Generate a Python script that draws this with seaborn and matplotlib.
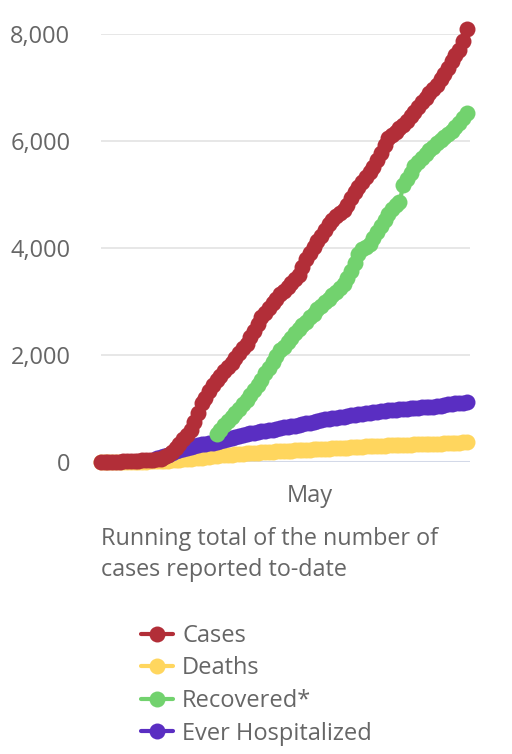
import numpy as np
import pandas as pd
import seaborn as sns
import matplotlib.pyplot as plt
from matplotlib.ticker import StrMethodFormatter

dates = pd.date_range('2020-03-06', periods=99, freq='D')

cases = [0, 0, 1, 1, 2, 3, 5, 8, 12, 15,
         20, 25, 30, 35, 40, 45, 52, 90, 130, 190,
         260, 340, 420, 500, 600, 750, 920, 1090, 1200, 1320,
         1440, 1520, 1600, 1690, 1770, 1850, 1940, 2030, 2120, 2210,
         2330, 2450, 2580, 2700, 2790, 2870, 2960, 3040, 3130, 3200,
         3260, 3340, 3410, 3500, 3650, 3790, 3900, 4010, 4120, 4230,
         4340, 4440, 4520, 4590, 4650, 4700, 4810, 4930, 5040, 5135,
         5230, 5320, 5420, 5520, 5640, 5780, 5920, 6050, 6110, 6170,
         6240, 6300, 6380, 6460, 6550, 6640, 6730, 6810, 6890, 6970,
         7050, 7150, 7260, 7370, 7490, 7600, 7700, 7870, 8090]

deaths = [0, 0, 0, 0, 0, 0, 0, 0, 0, 0,
          0, 0, 2, 4, 6, 9, 12, 16, 20, 25,
          30, 36, 42, 48, 55, 62, 70, 78, 86, 94,
          102, 110, 116, 122, 128, 134, 139, 145, 150, 155,
          160, 165, 170, 175, 180, 184, 189, 193, 197, 201,
          205, 208, 212, 215, 219, 222, 226, 229, 233, 236,
          240, 243, 247, 250, 254, 258, 262, 266, 271, 276,
          281, 285, 289, 292, 295, 298, 301, 304, 307, 310,
          313, 315, 318, 320, 323, 325, 328, 330, 333, 335,
          338, 340, 343, 345, 348, 351, 355, 360, 365]

# recovered reporting starts on day 31
recovered = [np.nan] * 31 + [
    525, 600, 680, 760, 840, 920, 990, 1070, 1160,
    1250, 1340, 1430, 1530, 1650, 1760, 1870, 1980, 2080, 2150,
    2230, 2320, 2400, 2480, 2550, 2620, 2700, 2770, 2850, 2910,
    2980, 3050, 3120, 3180, 3250, 3330, 3440, 3560, 3720, 3880,
    3980, 4020, 4080, 4180, 4300, 4410, 4530, 4640, 4730, 4800,
    4850, 5170, 5280, 5400, 5540, 5610, 5680, 5760, 5830, 5890,
    5960, 6020, 6070, 6130, 6190, 6260, 6340, 6430, 6520]

hospitalized = [np.nan] * 15 + [
    60, 80, 100, 130, 165,
    195, 215, 240, 260, 280, 295, 310, 325, 335, 345,
    355, 365, 385, 405, 425, 445, 460, 480, 500, 515,
    530, 545, 555, 565, 580, 590, 600, 615, 625, 640,
    650, 660, 670, 685, 700, 715, 730, 745, 760, 775,
    790, 805, 815, 825, 835, 845, 855, 865, 875, 885,
    895, 905, 915, 925, 935, 945, 950, 960, 965, 975,
    980, 990, 995, 1000, 1005, 1010, 1015, 1020, 1025, 1030,
    1040, 1050, 1060, 1070, 1080, 1090, 1095, 1105, 1115]

series = [
    ('Deaths', deaths, '#ffd65e', 3),
    ('Ever Hospitalized', hospitalized, '#5a2ec2', 4),
    ('Recovered*', recovered, '#72d26e', 5),
    ('Cases', cases, '#b22e38', 6),
]
legend_order = ['Cases', 'Deaths', 'Recovered*', 'Ever Hospitalized']

sns.set_style('white')
plt.rcParams['font.family'] = ['Open Sans', 'DejaVu Sans']
text_color = '#666666'

fig = plt.figure(figsize=(5.12, 7.54), dpi=100)
ax = fig.add_axes([101 / 512, (754 - 461.7) / 754, 369 / 512, 427.7 / 754])

for name, vals, color, z in series:
    sns.lineplot(x=dates, y=vals, ax=ax, color=color, lw=3, marker='o',
                 markersize=11.5, markeredgewidth=0, label=name, zorder=z,
                 clip_on=False)

ax.axhline(0, color='#d3d9e8', lw=1.5, zorder=2)
ax.set_ylim(0, 8000)
ax.set_xlim(dates[0], dates[-1] + pd.Timedelta(days=0.9))
ax.set_yticks([0, 2000, 4000, 6000, 8000])
ax.yaxis.set_major_formatter(StrMethodFormatter('{x:,.0f}'))
ax.set_xticks([pd.Timestamp('2020-05-01')])
ax.set_xticklabels(['May'])
ax.yaxis.grid(True, color='#e5e5e5', lw=1.3)
ax.xaxis.grid(False)
for s in ax.spines.values():
    s.set_visible(False)
ax.tick_params(axis='y', length=0, pad=22, labelsize=17, labelcolor=text_color)
ax.tick_params(axis='x', length=0, pad=16, labelsize=17, labelcolor=text_color)
ax.set_xlabel('')
ax.set_ylabel('')

fig.text(101 / 512, (754 - 545) / 754, 'Running total of the number of',
         fontsize=16.8, color=text_color, va='baseline')
fig.text(101 / 512, (754 - 576) / 754, 'cases reported to-date',
         fontsize=16.8, color=text_color, va='baseline')

handles, labels = ax.get_legend_handles_labels()
lookup = dict(zip(labels, handles))
ax.legend([lookup[n] for n in legend_order], legend_order,
          loc='upper left', bbox_to_anchor=(141 / 512, (754 - 624) / 754),
          bbox_transform=fig.transFigure, frameon=False, fontsize=17,
          handlelength=1.36, handletextpad=0.38, labelspacing=0.36,
          borderpad=0, borderaxespad=0, labelcolor=text_color)

fig.savefig('out.png', dpi=100)
